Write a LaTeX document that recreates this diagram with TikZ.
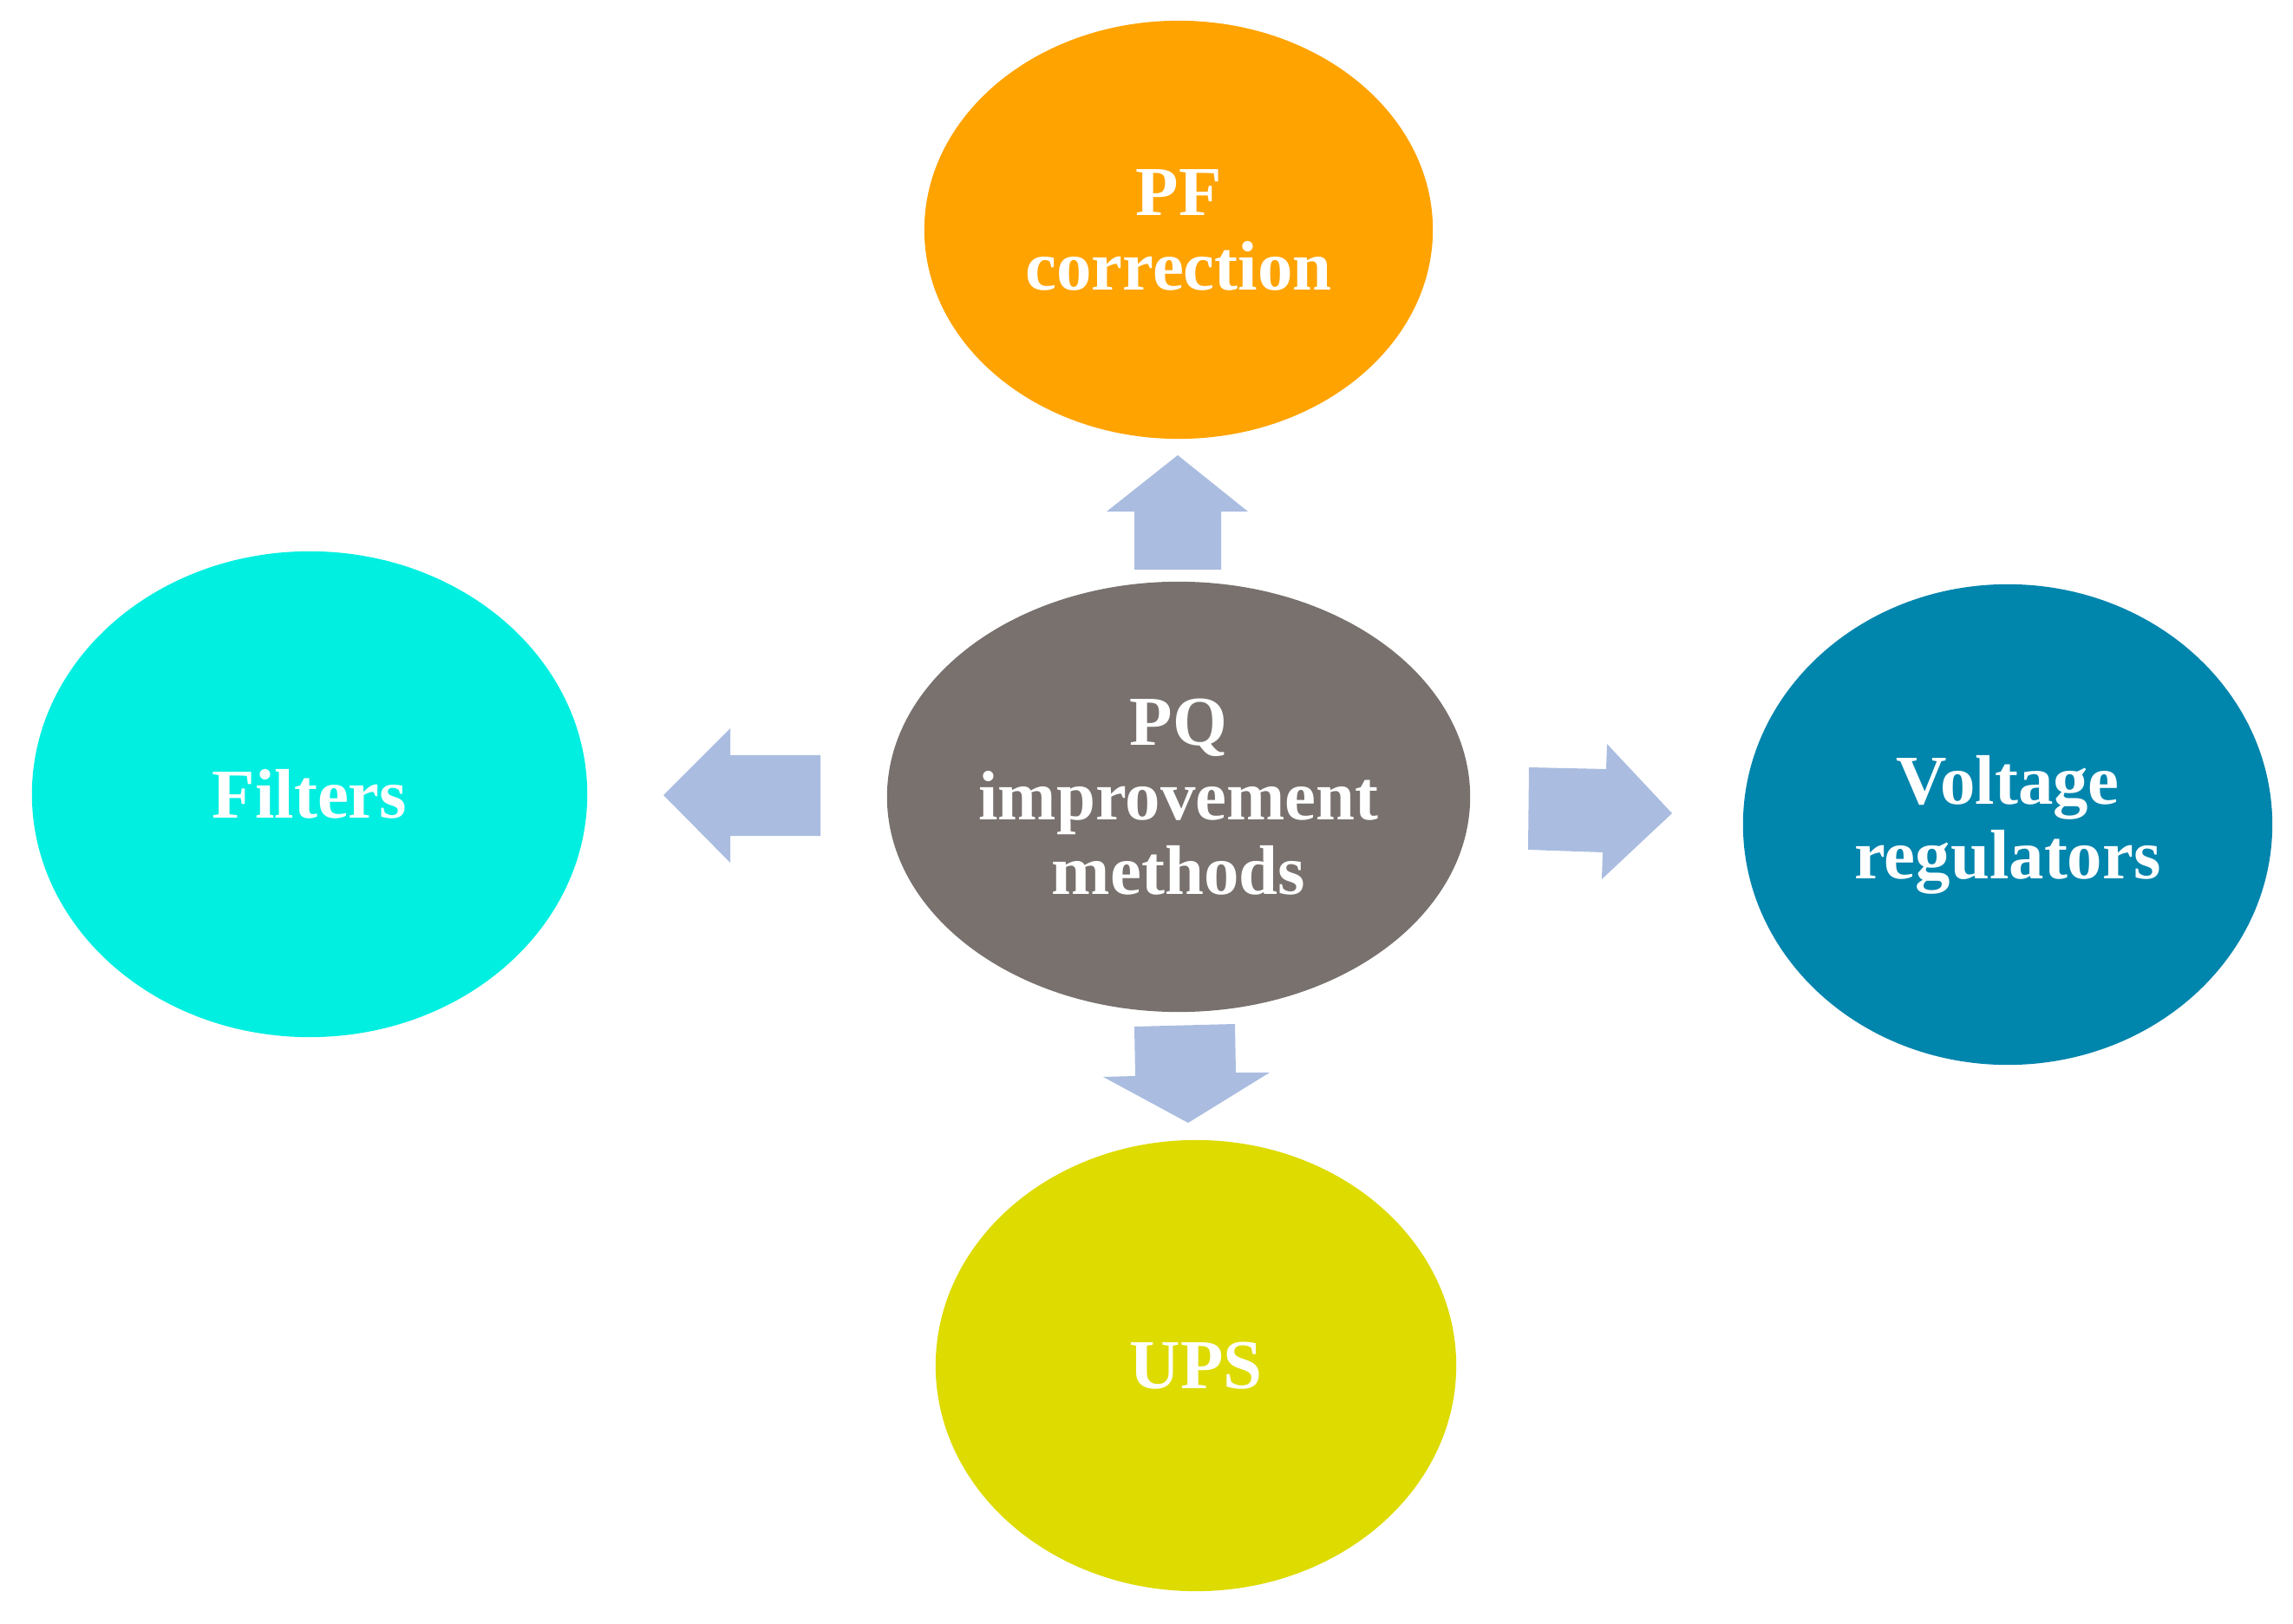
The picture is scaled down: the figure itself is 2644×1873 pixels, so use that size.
\documentclass[tikz,border=0pt]{standalone}
\usepackage{fontspec}
\setmainfont{Liberation Serif}[BoldFont={Liberation Serif Bold}]
\usetikzlibrary{shapes.geometric}
\definecolor{pfcol}{HTML}{FFA300}
\definecolor{filtcol}{HTML}{00EFE1}
\definecolor{pqcol}{HTML}{78716E}
\definecolor{vrcol}{HTML}{0085AD}
\definecolor{upscol}{HTML}{DDDB00}
\definecolor{arrcol}{HTML}{AABDE0}
\begin{document}
\begin{tikzpicture}[x=0.01cm,y=-0.01cm,
  blob/.style={ellipse, inner sep=0pt, text=white, align=center,
    font=\bfseries\fontsize{23}{24.5}\selectfont},
  blockarrow/.style={fill=arrcol, draw=none}]
\useasboundingbox (0,0) rectangle (2644,1873);
\node[blob, fill=pfcol, minimum width=5.86cm, minimum height=4.82cm] (pf) at (1359,265) {PF\\correction};
\node[blob, fill=filtcol, minimum width=6.40cm, minimum height=5.60cm] (filt) at (357,916) {Filters};
\node[blob, fill=pqcol, minimum width=6.72cm, minimum height=4.96cm] (pq) at (1359,919) {PQ\\improvement\\methods};
\node[blob, fill=vrcol, minimum width=6.10cm, minimum height=5.54cm] (vr) at (2315,951) {Voltage\\regulators};
\node[blob, fill=upscol, minimum width=6.00cm, minimum height=5.20cm] (ups) at (1379,1575) {UPS};
% up arrow
\fill[blockarrow] (1308,657) -- (1308,590) -- (1276,590) -- (1358,525) -- (1439,590) -- (1408,590) -- (1408,657) -- cycle;
% left arrow
\fill[blockarrow] (946,871) -- (842,871) -- (842,840) -- (765,917) -- (842,995) -- (842,964) -- (946,964) -- cycle;
% right arrow
\fill[blockarrow] (1763,885) -- (1852,887) -- (1853,858) -- (1928,938) -- (1847,1014) -- (1848,983) -- (1762,980) -- cycle;
% down arrow
\fill[blockarrow] (1308,1184) -- (1424,1181) -- (1425,1237) -- (1464,1237) -- (1370,1295) -- (1272,1242) -- (1309,1241) -- cycle;
\end{tikzpicture}
\end{document}
